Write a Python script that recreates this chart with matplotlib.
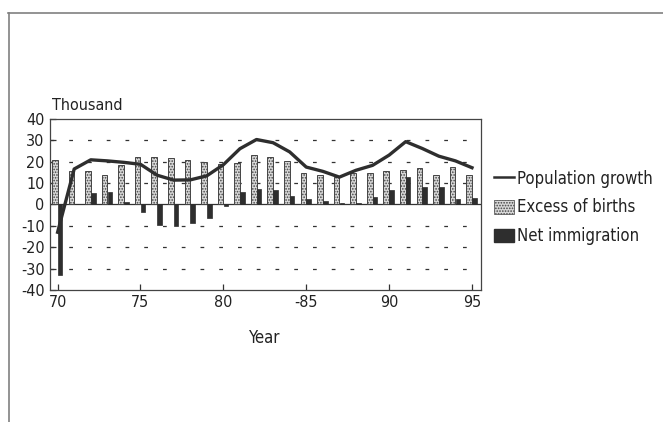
import numpy as np
import matplotlib.pyplot as plt
from matplotlib.lines import Line2D
from matplotlib.patches import Patch

plt.rcParams['font.family'] = ['DejaVu Sans']
plt.rcParams['font.stretch'] = 'condensed'
plt.rcParams['hatch.color'] = '#555555'
plt.rcParams['hatch.linewidth'] = 0.8

years = np.arange(1970, 1996)
year_labels = ['70', '75', '80', '-85', '90', '95']

# thousand persons
excess_births = [21.0, 15.8, 15.5, 13.7, 18.5, 22.4, 22.4, 21.8, 20.9, 20.1,
                 19.0, 19.6, 23.1, 22.0, 20.4, 14.8, 13.7, 12.8, 14.5, 14.5,
                 15.6, 16.3, 17.1, 13.9, 17.4, 13.9]
net_immigration = [-32.9, 0.3, 5.5, 6.0, 1.3, -3.6, -9.6, -10.3, -8.7, -6.3,
                   -0.5, 5.6, 7.2, 6.6, 3.9, 2.4, 1.4, 0.5, 0.9, 3.6,
                   6.8, 13.0, 8.4, 8.2, 2.5, 2.8]
pop_growth = [-13.0, 16.6, 20.9, 20.4, 19.7, 18.8, 13.7, 11.4, 11.5, 13.4,
              18.6, 26.1, 30.4, 28.9, 24.6, 17.5, 15.5, 12.8, 16.0, 18.3,
              23.1, 29.4, 26.2, 22.6, 20.4, 17.2]

dark = '#2e2e2e'

fig = plt.figure(figsize=(6.63, 4.22), dpi=100)
ax = fig.add_axes([0.0754, 0.313, 0.650, 0.405])

x = years - 1900
w = 0.34
ax.bar(x - w / 2, excess_births, width=w, color='#d8d8d8', hatch='......',
       edgecolor='#444444', linewidth=0.7, zorder=2)
ax.bar(x + w / 2 - 0.02, net_immigration, width=w - 0.06, color=dark,
       edgecolor=dark, linewidth=0.5, zorder=2)
ax.plot(x, pop_growth, color=dark, lw=2.4, solid_joinstyle='round', zorder=3)

for g in [-30, -20, -10, 10, 20, 30]:
    ax.axhline(g, color='#333333', lw=0.9, ls=(0, (3, 12)), zorder=1)
ax.axhline(0, color='#333333', lw=0.9, zorder=1)

ax.set_xlim(69.54, 95.54)
ax.set_ylim(-40, 40)
ax.set_yticks(range(-40, 41, 10))
ax.set_yticklabels([str(v) for v in range(-40, 41, 10)])
ax.set_xticks([70, 75, 80, 85, 90, 95])
ax.set_xticklabels(year_labels)
ax.tick_params(direction='in', length=4, width=0.9, colors='#333333',
               labelsize=11.5, labelcolor='#222222', pad=4)
for s in ax.spines.values():
    s.set_color('#444444')
    s.set_linewidth(0.9)

fig.text(52 / 663, 1 - 113 / 422, 'Thousand', fontsize=11.5, color='#222222',
         ha='left', va='bottom')
fig.text(265 / 663, 1 - 338 / 422, 'Year', fontsize=12, color='#222222',
         ha='center', va='center')

handles = [Line2D([], [], color=dark, lw=1.8),
           Patch(facecolor='#d8d8d8', hatch='......', edgecolor='#444444', linewidth=0.5),
           Patch(facecolor=dark, edgecolor=dark)]
fig.legend(handles, ['Population growth', 'Excess of births', 'Net immigration'],
           loc='upper left', bbox_to_anchor=(487 / 663, 1 - 163 / 422),
           frameon=False, fontsize=12, handlelength=1.2, handleheight=0.9,
           handletextpad=0.2, labelspacing=0.65, borderaxespad=0,
           labelcolor='#222222')

# page border lines
fig.add_artist(Line2D([8 / 663, 1], [1 - 12.5 / 422] * 2, color='#808080', lw=1.2))
fig.add_artist(Line2D([8.5 / 663] * 2, [0, 1 - 12.5 / 422], color='#808080', lw=1.2))

fig.savefig('out.png', dpi=100)
